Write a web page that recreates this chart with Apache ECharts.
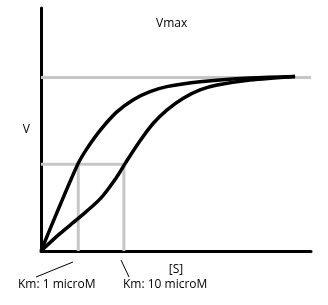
<!DOCTYPE html>
<html>
<head>
<meta charset="utf-8">
<script src="https://cdn.jsdelivr.net/npm/echarts@6/dist/echarts.min.js"></script>
<style>
  html, body { margin: 0; padding: 0; background: #fff; }
  #chart { width: 328px; height: 305px; }
</style>
</head>
<body>
<div id="chart"></div>
<script>
// hyperbolic curve (low Km) and sigmoid curve (high Km), [S] vs V
const curveLowKm = [
  [0, 0], [7.0, 0.262], [13.8, 0.505], [16.9, 0.587], [21.9, 0.695],
  [28.0, 0.80], [34.2, 0.872], [40.4, 0.918], [46.6, 0.947],
  [58.9, 0.975], [77.4, 0.997], [94.1, 1.006]
];
const curveHighKm = [
  [0, 0], [7.0, 0.1], [13.8, 0.188], [21.9, 0.3], [28.0, 0.425],
  [31.2, 0.505], [36.7, 0.635], [41.6, 0.736], [46.6, 0.812],
  [52.7, 0.88], [58.9, 0.928], [65.2, 0.956], [77.4, 0.985], [94.1, 1.006]
];
const kmValues = [13.8, 30.7];
const kmLabels = ["Km: 1 microM", "Km: 10 microM"];
const vmax = 1;
const xMax = 100;
const yMax = 1.4;

const gray = "#c6c6c6";
const font = "Open Sans";

const chart = echarts.init(document.getElementById("chart"));

//辅助灰线: Vmax, Vmax/2 and the two Km verticals
const guideLines = [
  [[0, vmax], [xMax, vmax]],
  [[0, vmax / 2], [kmValues[1], vmax / 2]],
  [[kmValues[0], 0], [kmValues[0], vmax / 2]],
  [[kmValues[1], 0], [kmValues[1], vmax / 2]],
];

const option = {
  animation: false,
  grid: { left: 41, right: 17, top: 8, bottom: 54 },
  xAxis: {
    type: "value",
    min: 0,
    max: xMax,
    name: "[S]",
    nameLocation: "middle",
    nameGap: 13,
    nameTextStyle: { fontFamily: font, fontSize: 12, color: "#000" },
    axisLine: { lineStyle: { color: "#000", width: 3 } },
    axisTick: { show: false },
    axisLabel: { show: false },
    splitLine: { show: false },
  },
  yAxis: {
    type: "value",
    min: 0,
    max: yMax,
    name: "V",
    nameLocation: "middle",
    nameGap: 11,
    nameRotate: 0,
    nameTextStyle: { fontFamily: font, fontSize: 12, color: "#000" },
    axisLine: { show: true, lineStyle: { color: "#000", width: 3 } },
    axisTick: { show: false },
    axisLabel: { show: false },
    splitLine: { show: false },
  },
  title: {
    text: "Vmax",
    left: 151,
    top: 13,
    textStyle: { fontFamily: font, fontSize: 12, fontWeight: "normal", color: "#000" },
  },
  series: [
    ...guideLines.map((seg) => ({
      type: "line",
      data: seg,
      symbol: "none",
      z: 1,
      lineStyle: { color: gray, width: 3 },
    })),
    {
      type: "line",
      data: curveLowKm,
      smooth: 0.3,
      symbol: "none",
      z: 3,
      lineStyle: { color: "#000", width: 3.5 },
    },
    {
      type: "line",
      data: curveHighKm,
      smooth: 0.3,
      symbol: "none",
      z: 3,
      lineStyle: { color: "#000", width: 3.5 },
    },
  ],
  graphic: [
    // annotation leaders and Km labels
    { type: "line", shape: { x1: 36, y1: 277, x2: 73, y2: 262 }, style: { stroke: "#000", lineWidth: 1 } },
    { type: "line", shape: { x1: 121, y1: 260, x2: 129, y2: 277 }, style: { stroke: "#000", lineWidth: 1 } },
    { type: "text", left: 18, top: 279, style: { text: kmLabels[0], font: "12px " + font, fill: "#000" } },
    { type: "text", left: 123, top: 279, style: { text: kmLabels[1], font: "12px " + font, fill: "#000" } },
  ],
};

chart.setOption(option);
</script>
</body>
</html>
